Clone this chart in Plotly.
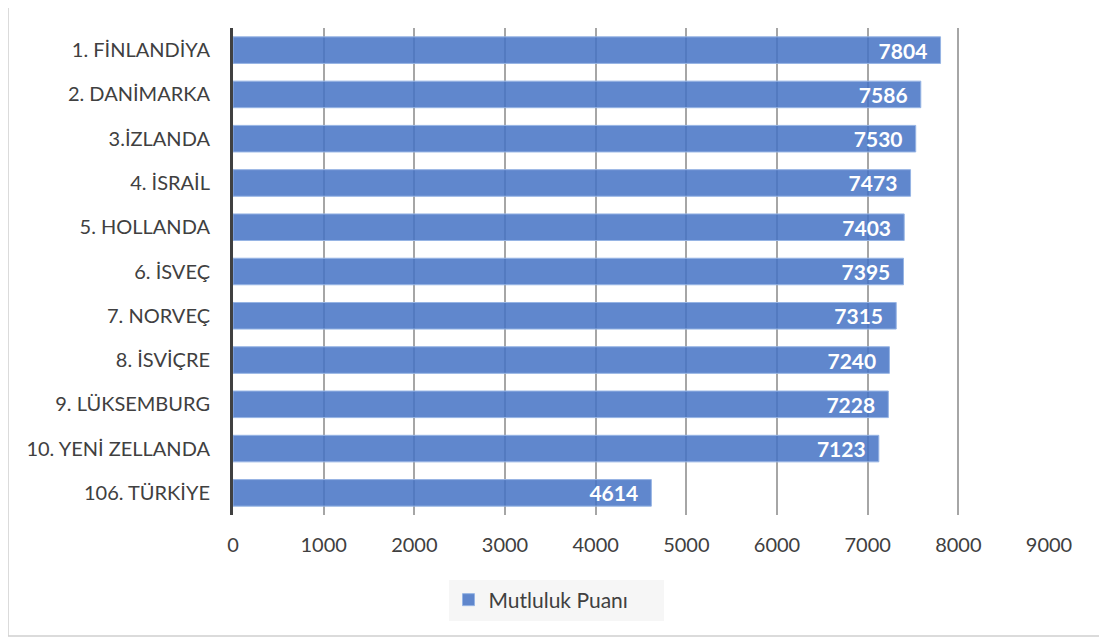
import plotly.graph_objects as go

countries = ["1. FİNLANDİYA", "2. DANİMARKA", "3.İZLANDA", "4. İSRAİL", "5. HOLLANDA",
             "6. İSVEÇ", "7. NORVEÇ", "8. İSVİÇRE", "9. LÜKSEMBURG", "10. YENİ ZELLANDA",
             "106. TÜRKİYE"]
scores = [7804, 7586, 7530, 7473, 7403, 7395, 7315, 7240, 7228, 7123, 4614]
series_name = "Mutluluk Puanı"
x_ticks = [0, 1000, 2000, 3000, 4000, 5000, 6000, 7000, 8000, 9000]

OFF = 8  # page body margin
W, H = 1107 - OFF, 641 - OFF
L, R, T, B = 233 - OFF, 58, 28 - OFF, 126
pw, ph = W - L - R, H - T - B

def px(xp):
    return (xp - OFF - L) / pw

def py(yp):
    return (H - B - (yp - OFF)) / ph

fig = go.Figure()
fig.add_trace(go.Bar(
    y=countries, x=scores, orientation="h", name=series_name,
    marker=dict(color="rgba(68,114,196,0.85)", line=dict(color="rgba(150,180,228,1)", width=1)),
    text=[str(v) for v in scores], texttemplate="%{text}\u00a0\u00a0",
    textposition="inside", insidetextanchor="end", constraintext="none",
    textfont=dict(color="white", size=21, family="Lato", weight="bold"),
    cliponaxis=False,
))

fig.update_layout(
    width=W, height=H,
    margin=dict(l=L, r=R, t=T, b=B),
    paper_bgcolor="white", plot_bgcolor="white",
    font=dict(family="Lato", size=20, color="#404040"),
    bargap=0.4,
    uniformtext=dict(minsize=21, mode="show"),
    showlegend=True,
    legend=dict(orientation="h", x=px(556), xanchor="center", y=py(600), yanchor="middle",
                bgcolor="#F6F6F6", font=dict(size=21, color="#404040"),
                entrywidth=170, itemwidth=30),
    xaxis=dict(range=[0, 9000], tickvals=x_ticks, ticktext=[str(v) for v in x_ticks],
               showgrid=True, gridcolor="#A6A6A6", gridwidth=1.5, zeroline=False,
               ticks="", ticklabelstandoff=16, tickfont=dict(size=20, color="#404040")),
    yaxis=dict(categoryorder="array", categoryarray=countries, autorange="reversed",
               showline=True, linecolor="#404040", linewidth=3, ticks="",
               ticklabelstandoff=16, tickfont=dict(size=20, color="#404040")),
    shapes=[dict(type="rect", xref="paper", yref="paper",
                 x0=px(8), x1=px(1102), y0=py(636), y1=py(4),
                 line=dict(color="#D0D0D0", width=1.5), fillcolor="rgba(0,0,0,0)", layer="below")],
)

fig.write_html("out.html")
